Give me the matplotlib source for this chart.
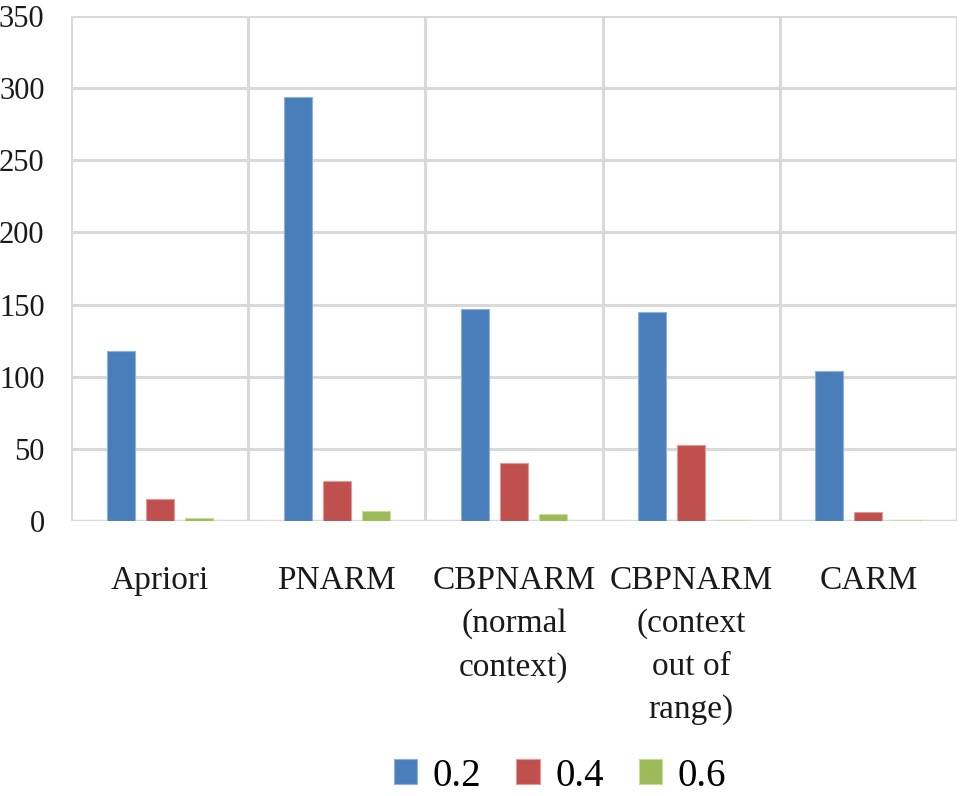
import matplotlib.pyplot as plt
import numpy as np

categories = ["Apriori", "PNARM", "CBPNARM\n(normal\ncontext)",
              "CBPNARM\n(context\nout of\nrange)", "CARM"]
series_names = ["0.2", "0.4", "0.6"]
vals_02 = [118, 294, 147, 145, 104]
vals_04 = [15, 28, 40, 53, 6]
vals_06 = [2, 7, 5, 1, 1]
colors = ["#4a7ebb", "#c0504d", "#9bbb59"]
edges = ["#8fb0dc", "#e09a98", "#c5dba0"]

plt.rcParams['font.family'] = ['Liberation Serif', 'DejaVu Serif']

fig = plt.figure(figsize=(9.62, 7.96), dpi=100)
ax = fig.add_axes([71/962, 1 - 521/796, (957-71)/962, (521-16)/796])

x = np.arange(len(categories))
w = 0.158
step = 0.22
for i, (vals, c, e) in enumerate(zip([vals_02, vals_04, vals_06], colors, edges)):
    ax.bar(x + (i - 1) * step, vals, width=w, color=c, edgecolor=e,
           linewidth=0.8, label=series_names[i], zorder=3)

ax.set_xlim(-0.5, len(categories) - 0.5)
ax.set_ylim(0, 350)
ax.set_yticks(range(0, 351, 50))
ax.yaxis.grid(True, color="#d9d9d9", linewidth=2.2, zorder=0)
for b in np.arange(-0.5, len(categories), 1.0):
    ax.axvline(b, color="#d9d9d9", linewidth=2.2, zorder=0)
for s in ax.spines.values():
    s.set_visible(False)
ax.axhline(0, color="#d9d9d9", linewidth=2.4, zorder=2)

ax.set_xticks(x)
ax.set_xticklabels(categories, fontsize=24, linespacing=1.53, va="top")
ax.tick_params(axis="both", length=0, colors="#1a1a1a")
ax.tick_params(axis="x", pad=32)
ax.tick_params(axis="y", pad=19, labelsize=22)

ax.legend(loc="center", bbox_to_anchor=(0.552, -0.505), ncol=3,
          frameon=False, fontsize=28, handlelength=0.6, handleheight=0.6,
          columnspacing=0.9, handletextpad=0.4)

fig.savefig("out.png", dpi=100)
